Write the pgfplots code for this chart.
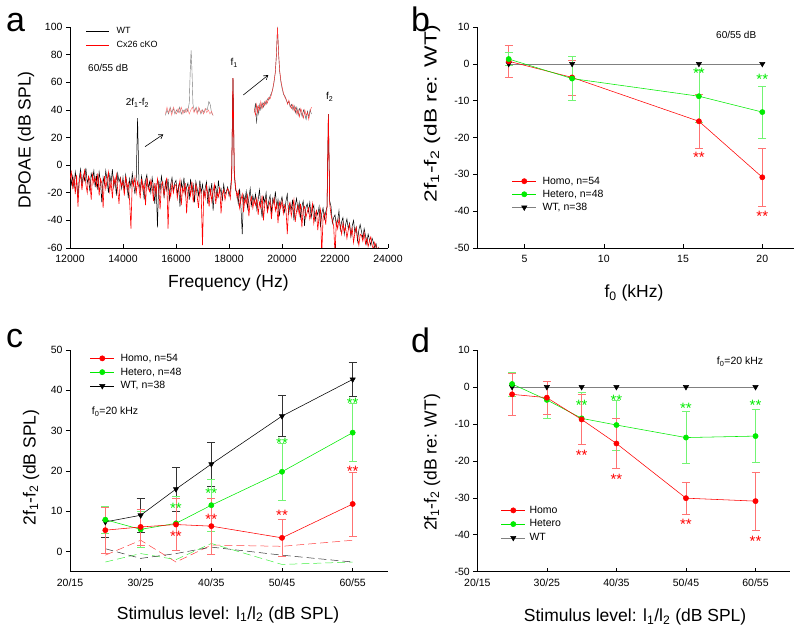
\documentclass[border=0pt]{standalone}
\usepackage{graphicx}
\usepackage{fontspec}
\setmainfont{Liberation Sans}
\usepackage{pgfplots}
\pgfplotsset{compat=1.18}
\usetikzlibrary{arrows.meta}
\definecolor{myred}{RGB}{255,0,0}
\definecolor{mygreen}{RGB}{0,235,0}
\newcommand{\lf}{\fontsize{10.5}{12}\selectfont}
\pgfplotsset{
  panel/.style={
    scale only axis,
    axis x line*=bottom, axis y line*=left,
    axis line style={-, line width=0.75pt, black},
    tick align=outside,
    major tick length=4pt,
    every tick/.style={black, line width=0.6pt},
    every x tick/.append style={yshift=4pt},
    tick label style={font=\fontsize{10.5}{12}\selectfont},
    label style={font=\fontsize{17.5}{20}\selectfont},
    /pgf/number format/.cd, 1000 sep={}, assume math mode=true, /pgfplots/.cd,
    scaled ticks=false,
    legend cell align=left,
    legend style={draw=none, fill=none, inner sep=0pt, outer sep=0pt,
      font=\fontsize{10.5}{12}\selectfont, nodes={inner sep=0pt}},
    legend image code/.code={\draw[mark repeat=2, mark phase=2, ##1] plot coordinates {(0pt,0pt) (12pt,0pt) (24pt,0pt)};},
  },
  homoL/.style={myred, line width=0.55pt, mark=*, mark size=2.6pt, mark options={solid, fill=myred, draw=myred}},
  hetL/.style={mygreen, line width=0.55pt, mark=*, mark size=2.6pt, mark options={solid, fill=mygreen, draw=mygreen}},
  wtL/.style={black, line width=0.55pt, mark=triangle*, mark size=3pt, mark options={solid, fill=black, draw=black, rotate=180}},
  wtgL/.style={black!50, line width=0.55pt, mark=triangle*, mark size=3pt, mark options={solid, fill=black, draw=black, rotate=180}},
  ebar/.style={/pgfplots/error bars/y dir=both, /pgfplots/error bars/y explicit,
    /pgfplots/error bars/error bar style={line width=0.5pt, #1},
    /pgfplots/error bars/error mark options={rotate=90, line width=0.5pt, mark size=4pt, #1}},
  ndash/.style={line width=0.5pt, dash pattern=on 8pt off 4pt, forget plot},
}
\tikzset{star/.style={anchor=base, yshift=-8.7pt, font=\fontsize{15}{15}\selectfont, inner sep=0pt}}
\begin{document}
\begin{tikzpicture}[x=1pt,y=1pt]
\useasboundingbox (0,0) rectangle (800,632);

% ---------------- panel a ----------------
\begin{axis}[panel, at={(70pt,384pt)}, anchor=south west, width=318pt, height=221pt,
  xmin=12000, xmax=24000, ymin=-60, ymax=100,
  xtick={12000,14000,...,24000}, ytick={-60,-40,...,100},
  xlabel={Frequency (Hz)}, ylabel={DPOAE (dB SPL)},
  xlabel style={at={(axis description cs:0.498,-0.179)}, anchor=base},
  ylabel style={at={(axis description cs:-0.1384,0.489)}, anchor=center},
  legend style={at={(axis description cs:0.0503,0.9977)}, anchor=north west, row sep=6.5pt, column sep=7pt},
  legend image code/.code={\draw[#1] (0pt,0pt) -- (23pt,0pt);}
]
\addlegendimage{black, line width=0.6pt}\addlegendentry{\fontsize{9}{10}\selectfont WT}
\addlegendimage{myred, line width=0.6pt}\addlegendentry{\fontsize{9}{10}\selectfont Cx26 cKO}
\addplot[black, line width=0.5pt, forget plot] coordinates {
(12000,-6)(12050,-14)(12100,-8)(12150,-17)(12200,-5)(12250,-12)(12300,-24)(12350,-9)(12400,-3)(12450,-15)(12500,-7)(12550,-11)(12600,-2)(12650,-13)(12700,-9)(12750,-19)(12800,-6)(12850,-10)(12900,-4)(12950,-16)
(13000,-8)(13050,-18)(13100,-5)(13150,-12)(13200,-27)(13250,-9)(13300,-14)(13350,-4)(13400,-11)(13450,-20)(13500,-7)(13550,-13)(13600,-3)(13650,-16)(13700,-10)(13750,-22)(13800,-6)(13850,-12)(13900,-9)(13950,-17)
(14000,-9)(14050,-19)(14100,-7)(14150,-14)(14200,-24)(14250,-10)(14300,-16)(14350,-6)(14400,-13)(14450,-21)(14500,-9)(14550,34)(14600,-12)(14650,-18)(14700,-8)(14750,-15)(14800,-25)(14850,-11)(14900,-7)(14950,-17)
(15000,-12)(15050,-20)(15100,-9)(15150,-16)(15200,-28)(15250,-13)(15300,-45)(15350,-11)(15400,-19)(15450,-8)(15500,-15)(15550,-23)(15600,-12)(15650,-18)(15700,-10)(15750,-26)(15800,-14)(15850,-9)(15900,-19)(15950,-13)
(16000,-11)(16050,-21)(16100,-15)(16150,-30)(16200,-12)(16250,-18)(16300,-9)(16350,-22)(16400,-16)(16450,-13)(16500,-25)(16550,-10)(16600,-19)(16650,-14)(16700,-27)(16750,-12)(16800,-17)(16850,-22)(16900,-11)(16950,-20)
(17000,-14)(17050,-23)(17100,-17)(17150,-12)(17200,-28)(17250,-16)(17300,-21)(17350,-13)(17400,-33)(17450,-18)(17500,-15)(17550,-24)(17600,-11)(17650,-20)(17700,-17)(17750,-26)(17800,-14)(17850,-21)(17900,-19)(17950,-16)
(18000,-22)(18050,-18)(18100,-8)(18150,63)(18200,-7)(18250,-18)(18300,-20)(18350,-28)(18400,-17)(18450,-30)(18500,-50)(18550,-22)(18600,-26)(18650,-19)(18700,-31)(18750,-24)(18800,-17)(18850,-29)(18900,-22)(18950,-27)
(19000,-21)(19050,-32)(19100,-25)(19150,-18)(19200,-29)(19250,-38)(19300,-23)(19350,-27)(19400,-20)(19450,-33)(19500,-26)(19550,-22)(19600,-35)(19650,-24)(19700,-28)(19750,-19)(19800,-31)(19850,-25)(19900,-37)(19950,-27)
(20000,-23)(20050,-30)(20100,-34)(20150,-26)(20200,-21)(20250,-36)(20300,-28)(20350,-32)(20400,-25)(20450,-40)(20500,-29)(20550,-24)(20600,-33)(20650,-27)(20700,-38)(20750,-30)(20800,-26)(20850,-44)(20900,-31)(20950,-28)
(21000,-34)(21050,-27)(21100,-38)(21150,-32)(21200,-29)(21250,-41)(21300,-33)(21350,-36)(21400,-30)(21450,-45)(21500,-35)(21550,-31)(21600,-39)(21650,-34)(21700,-30)(21750,37)(21800,-26)(21850,-30)(21900,-42)(21950,-38)
(22000,-36)(22050,-44)(22100,-40)(22150,-33)(22200,-47)(22250,-41)(22300,-38)(22350,-50)(22400,-43)(22450,-39)(22500,-46)(22550,-42)(22600,-52)(22650,-44)(22700,-40)(22750,-49)(22800,-45)(22850,-55)(22900,-47)(22950,-43)
(23000,-48)(23050,-53)(23100,-46)(23150,-51)(23200,-57)(23250,-50)(23300,-54)(23350,-58)(23400,-53)(23450,-56)(23500,-60)(23550,-57)(23600,-62)(23650,-60)(23700,-65)};
\addplot[myred, line width=0.6pt, forget plot] coordinates {
(12000,-10)(12050,-5)(12100,-16)(12150,-9)(12200,-21)(12250,-7)(12300,-30)(12350,-12)(12400,-6)(12450,-18)(12500,-10)(12550,-4)(12600,-14)(12650,-20)(12700,-8)(12750,-11)(12800,-25)(12850,-7)(12900,-13)(12950,-9)
(13000,-15)(13050,-6)(13100,-22)(13150,-10)(13200,-13)(13250,-31)(13300,-8)(13350,-17)(13400,-11)(13450,-5)(13500,-19)(13550,-12)(13600,-24)(13650,-9)(13700,-14)(13750,-7)(13800,-18)(13850,-28)(13900,-10)(13950,-15)
(14000,-12)(14050,-22)(14100,-8)(14150,-17)(14200,-13)(14250,-26)(14300,-46)(14350,-11)(14400,-15)(14450,-9)(14500,-20)(14550,-12)(14600,-16)(14650,-24)(14700,-10)(14750,-18)(14800,-13)(14850,-29)(14900,-9)(14950,-16)
(15000,-19)(15050,-11)(15100,-15)(15150,-26)(15200,-13)(15250,-21)(15300,-10)(15350,-17)(15400,-32)(15450,-14)(15500,-12)(15550,-22)(15600,-16)(15650,-9)(15700,-46)(15750,-18)(15800,-23)(15850,-13)(15900,-20)(15950,-15)
(16000,-14)(16050,-24)(16100,-17)(16150,-11)(16200,-29)(16250,-16)(16300,-20)(16350,-13)(16400,-35)(16450,-18)(16500,-15)(16550,-22)(16600,-12)(16650,-27)(16700,-19)(16750,-14)(16800,-23)(16850,-31)(16900,-16)(16950,-21)
(17000,-58)(17050,-18)(17100,-24)(17150,-15)(17200,-21)(17250,-30)(17300,-17)(17350,-26)(17400,-19)(17450,-14)(17500,-28)(17550,-20)(17600,-23)(17650,-16)(17700,-35)(17750,-21)(17800,-18)(17850,-25)(17900,-20)(17950,-17)
(18000,-19)(18050,-24)(18100,-9)(18150,63)(18200,-6)(18250,-16)(18300,-23)(18350,-19)(18400,-31)(18450,-25)(18500,-21)(18550,-34)(18600,-24)(18650,-28)(18700,-22)(18750,-37)(18800,-26)(18850,-23)(18900,-31)(18950,-25)
(19000,-29)(19050,-24)(19100,-36)(19150,-27)(19200,-31)(19250,-22)(19300,-40)(19350,-28)(19400,-25)(19450,-34)(19500,-30)(19550,-26)(19600,-39)(19650,-29)(19700,-24)(19750,-33)(19800,-28)(19850,-42)(19900,-27)(19950,-31)
(20000,-26)(20050,-35)(20100,-29)(20150,-32)(20200,-50)(20250,-30)(20300,-27)(20350,-37)(20400,-31)(20450,-25)(20500,-41)(20550,-33)(20600,-29)(20650,-36)(20700,-28)(20750,-45)(20800,-32)(20850,-30)(20900,-38)(20950,-34)
(21000,-31)(21050,-39)(21100,-35)(21150,-28)(21200,-42)(21250,-36)(21300,-33)(21350,-47)(21400,-37)(21450,-32)(21500,-65)(21550,-38)(21600,-35)(21650,-43)(21700,-30)(21750,37)(21800,-28)(21850,-36)(21900,-40)(21950,-44)
(22000,-65)(22050,-41)(22100,-46)(22150,-39)(22200,-44)(22250,-50)(22300,-42)(22350,-48)(22400,-45)(22450,-53)(22500,-47)(22550,-43)(22600,-51)(22650,-46)(22700,-56)(22750,-49)(22800,-45)(22850,-52)(22900,-58)(22950,-50)
(23000,-51)(23050,-55)(23100,-49)(23150,-57)(23200,-53)(23250,-59)(23300,-55)(23350,-52)(23400,-58)(23450,-61)(23500,-56)(23550,-59)(23600,-63)(23650,-60)(23700,-66)};
% inset 1 (2f1-f2 zoom)
\addplot[black!55, line width=0.4pt, forget plot] coordinates {
(15600,36)(15660,40)(15720,37)(15780,42)(15840,38)(15900,41)(15960,37)(16020,40)(16080,38)(16140,42)(16200,37)(16260,40)(16320,38)(16380,41)(16440,39)(16500,45)(16540,70)(16570,83)(16600,70)(16640,44)(16700,39)(16760,42)(16820,38)(16880,41)(16940,37)(17000,40)(17060,38)(17120,41)(17180,40)(17240,46)(17290,44)(17340,38)(17400,36)};
\addplot[myred!55, line width=0.4pt, forget plot] coordinates {
(15600,37)(15660,42)(15720,38)(15780,41)(15840,36)(15900,42)(15960,39)(16020,37)(16080,41)(16140,38)(16200,42)(16260,37)(16320,40)(16380,38)(16440,41)(16500,37)(16560,40)(16620,42)(16680,38)(16740,41)(16800,37)(16860,42)(16920,38)(16980,40)(17040,37)(17100,41)(17160,38)(17220,40)(17280,37)(17340,39)(17400,36)};
% inset 2 (f1 zoom)
\addplot[black!70, line width=0.4pt, forget plot] coordinates {
(18950,38)(19000,45)(19040,30)(19080,42)(19120,37)(19160,44)(19200,40)(19250,45)(19300,42)(19350,46)(19400,44)(19450,48)(19500,47)(19550,50)(19600,52)(19650,55)(19700,60)(19750,68)(19790,80)(19830,100)(19870,82)(19910,68)(19960,60)(20010,55)(20060,51)(20110,50)(20160,47)(20210,45)(20260,46)(20310,42)(20360,44)(20410,40)(20460,43)(20510,38)(20560,42)(20610,36)(20660,41)(20710,39)(20760,35)(20810,40)(20860,37)(20910,33)(20960,39)(21010,35)(21060,40)(21110,37)};
\addplot[myred!80, line width=0.4pt, forget plot] coordinates {
(18950,41)(19000,36)(19040,44)(19080,38)(19120,43)(19160,40)(19200,46)(19250,41)(19300,45)(19350,43)(19400,47)(19450,45)(19500,49)(19550,48)(19600,51)(19650,55)(19700,61)(19750,67)(19790,81)(19830,100)(19870,81)(19910,69)(19960,61)(20010,56)(20060,52)(20110,49)(20160,48)(20210,44)(20260,47)(20310,43)(20360,41)(20410,44)(20460,39)(20510,42)(20560,37)(20610,40)(20660,35)(20710,41)(20760,38)(20810,34)(20860,40)(20910,36)(20960,38)(21010,33)(21060,39)(21110,42)};
\end{axis}

% ---------------- panel b ----------------
\begin{axis}[panel, at={(477pt,384pt)}, anchor=south west, width=317pt, height=221pt,
  xmin=2, xmax=22, ymin=-50, ymax=10, xtick={5,10,15,20}, ytick={-50,-40,...,10},
  xlabel={f\textsubscript{0} (kHz)},
  ylabel={\scalebox{1.3}[1]{2f\textsubscript{1}-f\textsubscript{2} (dB re: WT)}},
  xlabel style={at={(axis description cs:0.495,-0.225)}, anchor=base},
  ylabel style={at={(axis description cs:-0.142,0.609)}, anchor=center},
  legend style={at={(axis description cs:0.1104,0.322)}, anchor=north west, row sep=4.3pt, column sep=6pt}
]
\addlegendimage{homoL}\addlegendentry{\lf Homo, n=54}
\addlegendimage{hetL}\addlegendentry{\lf Hetero, n=48}
\addlegendimage{wtgL}\addlegendentry{\lf WT, n=38}
\addplot[wtgL, forget plot] coordinates {(4,0)(8,0)(16,0)(20,0)};
\addplot[homoL, ebar=myred!55, forget plot] coordinates {(4,0.7) +- (0,4.3) (8,-3.7) +- (0,4.7) (16,-15.6) +- (0,7.3) (20,-30.8) +- (0,7.9)};
\addplot[hetL, ebar=mygreen!55, forget plot] coordinates {(4,1.3) +- (0,1.8) (8,-4.0) +- (0,6.0) (16,-8.8) +- (0,7.0) (20,-13.1) +- (0,7.1)};
\node[star, text=mygreen] at (axis cs:16,-1.6) {**};
\node[star, text=mygreen] at (axis cs:20,-3.2) {**};
\node[star, text=myred] at (axis cs:16,-24.5) {**};
\node[star, text=myred] at (axis cs:20,-40.5) {**};
\end{axis}

% ---------------- panel c ----------------
\begin{axis}[panel, at={(70pt,60.3pt)}, anchor=south west, width=318pt, height=221.7pt,
  xmin=20, xmax=65, ymin=-5, ymax=50, xtick={20,30,40,50,60},
  xticklabels={20/15,30/25,40/35,50/45,60/55}, ytick={0,10,...,50},
  xlabel={Stimulus level: l\textsubscript{1}/l\textsubscript{2} (dB SPL)},
  ylabel={2f\textsubscript{1}-f\textsubscript{2} (dB SPL)},
  xlabel style={at={(axis description cs:0.497,-0.2134)}, anchor=base},
  ylabel style={at={(axis description cs:-0.1226,0.47)}, anchor=center},
  legend style={at={(axis description cs:0.0629,0.982)}, anchor=north west, row sep=5pt, column sep=6pt}
]
\addlegendimage{homoL}\addlegendentry{\lf Homo, n=54}
\addlegendimage{hetL}\addlegendentry{\lf Hetero, n=48}
\addlegendimage{wtL}\addlegendentry{\lf WT, n=38}
\addplot[ndash, myred!75] coordinates {(25,-0.9)(30,2.8)(35,-2.6)(40,1.6)(50,1.3)(60,2.8)};
\addplot[ndash, mygreen!75] coordinates {(25,-2.6)(30,-0.5)(35,-2.0)(40,2.0)(50,-3.2)(60,-2.6)};
\addplot[ndash, black!80] coordinates {(25,0.7)(30,-1.7)(35,-0.5)(40,1.1)(50,-0.9)(60,-2.6)};
\addplot[wtL, ebar=black!80, forget plot] coordinates {(25,7.35) +- (0,3.8) (30,9.0) +- (0,4.2) (35,15.5) +- (0,5.4) (40,21.7) +- (0,5.5) (50,33.6) +- (0,5.1) (60,42.7) +- (0,4.2)};
\addplot[hetL, ebar=mygreen!55, forget plot] coordinates {(25,7.9) +- (0,3.3) (30,5.5) +- (0,4.5) (35,7.0) +- (0,6.7) (40,11.5) +- (0,6.5) (50,19.8) +- (0,7.1) (60,29.5) +- (0,7.2)};
\addplot[homoL, ebar=myred!55, forget plot] coordinates {(25,5.3) +- (0,5.8) (30,6.1) +- (0,4.5) (35,6.7) +- (0,6.5) (40,6.3) +- (0,7.0) (50,3.4) +- (0,4.6) (60,11.8) +- (0,7.9)};
\node[star, text=mygreen] at (axis cs:35,11.5) {**};
\node[star, text=mygreen] at (axis cs:40,15.4) {**};
\node[star, text=mygreen] at (axis cs:50,27.8) {**};
\node[star, text=mygreen] at (axis cs:60,37.6) {**};
\node[star, text=myred] at (axis cs:35,4.7) {**};
\node[star, text=myred] at (axis cs:40,8.9) {**};
\node[star, text=myred] at (axis cs:50,9.8) {**};
\node[star, text=myred] at (axis cs:60,20.9) {**};
\end{axis}

% ---------------- panel d ----------------
\begin{axis}[panel, at={(477.3pt,60.3pt)}, anchor=south west, width=313pt, height=221.7pt,
  xmin=20, xmax=65, ymin=-50, ymax=10, xtick={20,30,40,50,60},
  xticklabels={20/15,30/25,40/35,50/45,60/55}, ytick={-50,-40,...,10},
  xlabel={Stimulus level: l\textsubscript{1}/l\textsubscript{2} (dB SPL)},
  ylabel={2f\textsubscript{1}-f\textsubscript{2} (dB re: WT)},
  xlabel style={at={(axis description cs:0.504,-0.2255)}, anchor=base},
  ylabel style={at={(axis description cs:-0.1447,0.4925)}, anchor=center},
  legend style={at={(axis description cs:0.0757,0.2963)}, anchor=north west, row sep=5pt, column sep=4pt}
]
\addlegendimage{homoL}\addlegendentry{\lf Homo}
\addlegendimage{hetL}\addlegendentry{\lf Hetero}
\addlegendimage{wtgL}\addlegendentry{\lf WT}
\addplot[wtgL, forget plot] coordinates {(25,0)(30,0)(35,0)(40,0)(50,0)(60,0)};
\addplot[hetL, ebar=mygreen!55, forget plot] coordinates {(25,0.8) +- (0,3.3) (30,-3.5) +- (0,5.0) (35,-8.5) +- (0,7.0) (40,-10.3) +- (0,6.8) (50,-13.7) +- (0,7.0) (60,-13.3) +- (0,7.2)};
\addplot[homoL, ebar=myred!55, forget plot] coordinates {(25,-2.0) +- (0,5.6) (30,-2.9) +- (0,4.5) (35,-8.8) +- (0,6.7) (40,-15.3) +- (0,6.8) (50,-30.1) +- (0,4.3) (60,-30.9) +- (0,7.8)};
\node[star, text=mygreen] at (axis cs:35,-4.0) {**};
\node[star, text=mygreen] at (axis cs:40,-2.6) {**};
\node[star, text=mygreen] at (axis cs:50,-4.8) {**};
\node[star, text=mygreen] at (axis cs:60,-4.1) {**};
\node[star, text=myred] at (axis cs:35,-17.5) {**};
\node[star, text=myred] at (axis cs:40,-24.0) {**};
\node[star, text=myred] at (axis cs:50,-36.3) {**};
\node[star, text=myred] at (axis cs:60,-40.8) {**};
\end{axis}

% ---------------- annotations ----------------
\node[anchor=base west, font=\fontsize{34}{36}\selectfont, inner sep=0pt] at (6,600) {a};
\node[anchor=base west, font=\fontsize{34}{36}\selectfont, inner sep=0pt] at (411,600) {b};
\node[anchor=base west, font=\fontsize{34}{36}\selectfont, inner sep=0pt] at (6,284.7) {c};
\node[anchor=base west, font=\fontsize{34}{36}\selectfont, inner sep=0pt] at (411,279) {d};
\node[anchor=base west, font=\fontsize{10}{12}\selectfont, inner sep=0pt] at (125.7,526.3) {2f\textsubscript{1}-f\textsubscript{2}};
\node[anchor=base west, font=\fontsize{10}{12}\selectfont, inner sep=0pt] at (230.5,566) {f\textsubscript{1}};
\node[anchor=base west, font=\fontsize{10}{12}\selectfont, inner sep=0pt] at (326,532) {f\textsubscript{2}};
\node[anchor=base west, font=\fontsize{10}{12}\selectfont, inner sep=0pt] at (88,560.5) {60/55 dB};
\node[anchor=base west, font=\fontsize{10}{12}\selectfont, inner sep=0pt] at (716,593.5) {60/55 dB};
\node[anchor=base west, font=\fontsize{10.5}{12}\selectfont, inner sep=0pt] at (91.7,217) {f\textsubscript{0}=20 kHz};
\node[anchor=base west, font=\fontsize{10.5}{12}\selectfont, inner sep=0pt] at (716.7,267) {f\textsubscript{0}=20 kHz};
\draw[-{Straight Barb[length=4pt,width=5pt]}, line width=0.6pt] (145,485.3) -- (163.3,497.7);
\draw[-{Straight Barb[length=4pt,width=5pt]}, line width=0.6pt] (243.3,537) -- (268.3,557);
\end{tikzpicture}
\end{document}
